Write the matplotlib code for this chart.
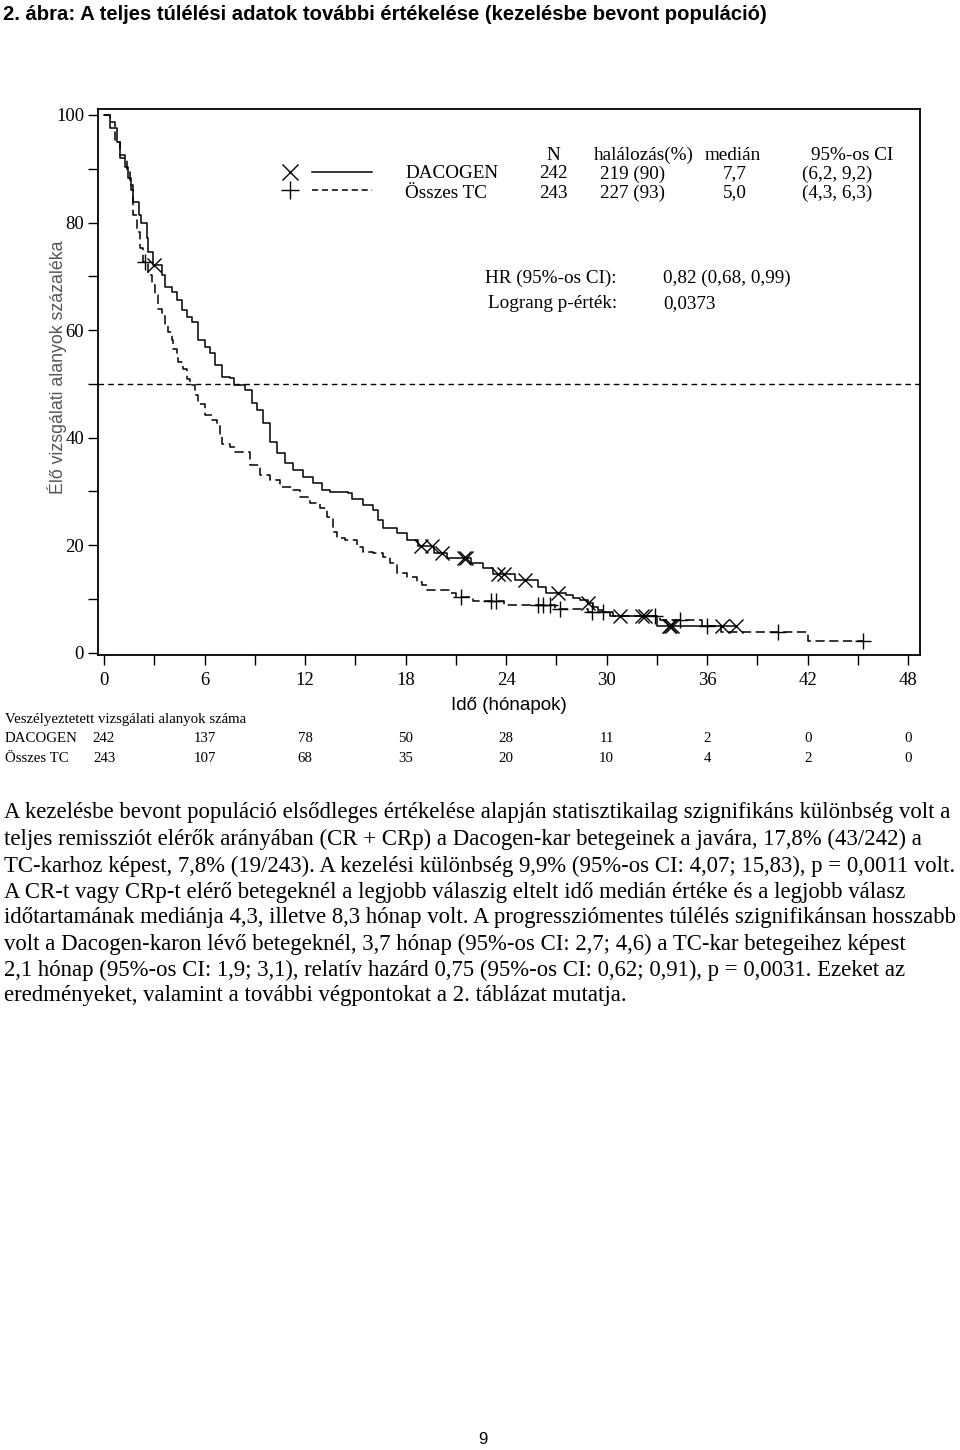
import numpy as np
import matplotlib
matplotlib.use('Agg')
import matplotlib.pyplot as plt
import matplotlib.transforms as mtransforms

SERIF = 'Liberation Serif'
SANS = 'Liberation Sans'

# DACOGEN curve: months, % alive
dac_t = [0, 0.36, 0.78, 0.96, 1.25, 1.43, 1.61, 1.73, 2.09, 2.21, 2.57, 2.63, 2.93,
         3.46, 3.64, 4.06, 4.36, 4.66, 4.96, 5.25, 5.61, 6.03, 6.33, 6.63, 7.04,
         7.52, 7.75, 8.42, 8.84, 9.13, 9.49, 9.91, 10.33, 10.81, 11.28, 11.88, 12.48,
         13.01, 13.49, 14.57, 14.81, 15.46, 16.06, 16.36, 16.66, 17.49, 18.09, 18.75,
         19.70, 20.48, 21.88, 22.6, 23.2, 24.5, 25.9, 26.4, 27.6, 28.0, 28.4, 28.9,
         29.2, 29.5, 29.8, 30.2, 33.0, 37.8]
dac_s = [100, 97.6, 95.0, 92.6, 90.3, 88.3, 86.1, 83.8, 81.4, 79.9, 77.1, 74.5, 72.1,
         70.3, 68.0, 67.1, 65.6, 63.8, 62.5, 61.5, 58.2, 56.9, 55.8, 53.5, 51.3,
         51.1, 49.8, 48.9, 46.5, 45.2, 42.8, 39.2, 37.2, 35.3, 34.0, 32.7, 31.6,
         30.3, 29.9, 29.7, 28.6, 27.5, 26.6, 24.7, 23.2, 22.3, 21.0, 19.9,
         18.6, 17.7, 16.7, 15.8, 14.7, 13.6, 12.3, 11.2, 10.8, 10.2, 9.9, 9.3,
         8.6, 8.0, 7.6, 6.9, 4.9, 4.9]
dac_cens = [3.0, 18.9, 19.6, 20.2, 21.5, 21.6, 23.5, 23.9, 25.1, 27.1, 28.9, 30.8,
            32.1, 32.3, 33.7, 33.8, 33.9, 36.9, 37.7]

# Összes TC curve
tc_t = [0, 0.36, 0.66, 0.96, 1.37, 1.55, 1.73, 1.97, 2.15, 2.33, 2.63, 2.87, 3.04,
        3.22, 3.46, 3.64, 3.82, 4.06, 4.12, 4.36, 4.42, 4.72, 4.96, 5.13, 5.43, 5.61,
        6.03, 6.45, 6.75, 6.93, 7.04, 7.52, 7.82, 8.72, 9.31, 9.91, 10.51, 11.28,
        11.70, 12.30, 12.90, 13.31, 13.67, 13.91, 14.39, 15.10, 15.46, 16.06, 16.66,
        17.07, 17.49, 18.09, 18.69, 18.99, 19.28, 20.66, 21.0, 22.0, 23.9, 26.9,
        28.9, 30.4, 33.2, 35.7, 36.8, 42.0, 45.3]
tc_s = [100, 98.7, 95.0, 92.0, 89.4, 87.0, 81.4, 78.3, 75.3, 72.7, 70.3, 68.4, 66.5,
        64.0, 62.8, 61.2, 59.7, 58.2, 56.5, 55.6, 54.1, 52.8, 50.9, 49.8, 48.0, 46.3,
        44.2, 43.3, 42.4, 40.3, 38.8, 38.3, 37.4, 34.9, 33.1, 32.2, 30.9, 30.3,
        29.0, 27.9, 27.0, 25.3, 22.5, 21.4, 21.0, 19.7, 18.8, 18.6, 17.8,
        16.7, 14.9, 14.1, 13.2, 12.6, 11.7, 11.2, 10.4, 9.7, 8.9, 8.2,
        7.6, 6.9, 6.1, 5.0, 3.9, 2.2, 2.2]
tc_cens = [2.45, 21.3, 23.1, 23.4, 25.9, 26.2, 26.6, 27.2, 29.1, 29.8, 32.9, 34.4,
           36.0, 40.2, 45.3]

x_ticks = [0, 6, 12, 18, 24, 30, 36, 42, 48]
risk_dac = [242, 137, 78, 50, 28, 11, 2, 0, 0]
risk_tc = [243, 107, 68, 35, 20, 10, 4, 2, 0]

legend_rows = [
    ['DACOGEN', '242', '219 (90)', '7,7', '(6,2, 9,2)'],
    ['Összes TC', '243', '227 (93)', '5,0', '(4,3, 6,3)'],
]

body_lines = [
    "A kezelésbe bevont populáció elsődleges értékelése alapján statisztikailag szignifikáns különbség volt a",
    "teljes remissziót elérők arányában (CR + CRp) a Dacogen-kar betegeinek a javára, 17,8% (43/242) a",
    "TC-karhoz képest, 7,8% (19/243). A kezelési különbség 9,9% (95%-os CI: 4,07; 15,83), p = 0,0011 volt.",
    "A CR-t vagy CRp-t elérő betegeknél a legjobb válaszig eltelt idő medián értéke és a legjobb válasz",
    "időtartamának mediánja 4,3, illetve 8,3 hónap volt. A progressziómentes túlélés szignifikánsan hosszabb",
    "volt a Dacogen-karon lévő betegeknél, 3,7 hónap (95%-os CI: 2,7; 4,6) a TC-kar betegeihez képest",
    "2,1 hónap (95%-os CI: 1,9; 3,1), relatív hazárd 0,75 (95%-os CI: 0,62; 0,91), p = 0,0031. Ezeket az",
    "eredményeket, valamint a további végpontokat a 2. táblázat mutatja.",
]


def surv_at(t, s, x):
    idx = np.searchsorted(np.array(t), np.array(x), side='right') - 1
    return np.array(s)[idx]


W, H = 960, 1450
fig = plt.figure(figsize=(W / 100, H / 100), dpi=100)
AX_L, AX_R, AX_T, AX_B = 98, 920, 109, 655
ax = fig.add_axes([AX_L / W, 1 - AX_B / H, (AX_R - AX_L) / W, (AX_B - AX_T) / H])


def axpos(x, y):
    return (x - AX_L) / (AX_R - AX_L), (AX_B - y) / (AX_B - AX_T)


def figy(y):
    return 1 - y / H


# curves
ax.plot(dac_t, dac_s, drawstyle='steps-post', color='black', lw=1.1)
ax.plot(tc_t, tc_s, drawstyle='steps-post', color='black', lw=1.1, linestyle=(0, (6, 3)))
ax.plot(dac_cens, surv_at(dac_t, dac_s, dac_cens), linestyle='none', marker='x',
        ms=10, mew=1.0, color='black')
ax.plot(tc_cens, surv_at(tc_t, tc_s, tc_cens), linestyle='none', marker='+',
        ms=12, mew=1.0, color='black')
ax.axhline(50, color='black', lw=1.0, linestyle=(0, (4, 3)))

ax.set_xlim(-0.36, 48.7)
ax.set_ylim(-0.4, 101.1)
ax.set_xticks(x_ticks)
ax.set_xticks(range(3, 48, 6), minor=True)
ax.set_yticks(range(0, 101, 20))
ax.set_yticks(range(10, 100, 20), minor=True)
ax.tick_params(which='both', direction='out', length=7, width=1, color='black')
ax.tick_params(axis='x', pad=5)
ax.tick_params(axis='y', pad=3)
for lab in ax.get_xticklabels() + ax.get_yticklabels():
    lab.set_fontfamily(SERIF)
    lab.set_fontsize(13.5)
for sp in ax.spines.values():
    sp.set_linewidth(1.3)

ax.set_xlabel('Idő (hónapok)', fontfamily=SANS, fontsize=13.5, labelpad=6)
fig.text(57 / W, figy(367), 'Élő vizsgálati alanyok százaléka', rotation=90,
         ha='center', va='center', fontfamily=SANS, fontsize=12.8, color='#555555')

# legend block inside the plot
lx, ly = axpos(290, 172)
ax.plot([lx], [ly], marker='x', ms=11, mew=1.0, color='black', transform=ax.transAxes)
lx, ly = axpos(290, 190)
ax.plot([lx], [ly], marker='+', ms=13, mew=1.0, color='black', transform=ax.transAxes)
x0, y1 = axpos(312, 172)
x1, y2 = axpos(372, 190)
ax.plot([x0, x1], [y1, y1], color='black', lw=1.1, transform=ax.transAxes)
ax.plot([x0, x1], [y2, y2], color='black', lw=1.1, linestyle=(0, (4, 2.5)),
        transform=ax.transAxes)

tkw = dict(fontfamily=SERIF, fontsize=13.8, va='center', transform=ax.transAxes)
hy = axpos(0, 155)[1]
ax.text(axpos(553, 0)[0], hy, 'N', ha='center', **tkw)
ax.text(axpos(644, 0)[0], hy, 'halálozás(%)', ha='center', **tkw)
ax.text(axpos(733, 0)[0], hy, 'medián', ha='center', **tkw)
ax.text(axpos(811, 0)[0], hy, '95%-os CI', ha='left', **tkw)
for row, ypx in zip(legend_rows, [174, 193]):
    ry = axpos(0, ypx)[1]
    ax.text(axpos(405, 0)[0], ry, row[0], ha='left', **tkw)
    ax.text(axpos(553, 0)[0], ry, row[1], ha='center', **tkw)
    ax.text(axpos(633, 0)[0], ry, row[2], ha='center', **tkw)
    ax.text(axpos(735, 0)[0], ry, row[3], ha='center', **tkw)
    ax.text(axpos(802, 0)[0], ry, row[4], ha='left', **tkw)

ax.text(axpos(617, 0)[0], axpos(0, 278)[1], 'HR (95%-os CI):', ha='right', **tkw)
ax.text(axpos(617, 0)[0], axpos(0, 304)[1], 'Lograng p-érték:', ha='right', **tkw)
ax.text(axpos(663, 0)[0], axpos(0, 278)[1], '0,82 (0,68, 0,99)', ha='left', **tkw)
ax.text(axpos(663, 0)[0], axpos(0, 304)[1], '0,0373', ha='left', **tkw)

# number at risk table
blend = mtransforms.blended_transform_factory(ax.transData, fig.transFigure)
rkw = dict(fontfamily=SERIF, fontsize=10.7, va='center')
fig.text(5 / W, figy(719), 'Veszélyeztetett vizsgálati alanyok száma', ha='left', **rkw)
fig.text(5 / W, figy(739), 'DACOGEN', ha='left', **rkw)
fig.text(5 / W, figy(759), 'Összes TC', ha='left', **rkw)
for xt, a, b in zip(x_ticks, risk_dac, risk_tc):
    ax.text(xt, figy(739), str(a), ha='center', transform=blend, **rkw)
    ax.text(xt, figy(759), str(b), ha='center', transform=blend, **rkw)

# title
fig.text(3 / W, figy(15), '2. ábra: A teljes túlélési adatok további értékelése (kezelésbe bevont populáció)',
         ha='left', va='center', fontfamily=SANS, fontweight='bold', fontsize=14.6)

# body text
line_y = [812, 839, 866, 892, 918, 944, 970, 996]
for txt, yy in zip(body_lines, line_y):
    fig.text(4 / W, figy(yy), txt, ha='left', va='center', fontfamily=SERIF, fontsize=16.4)

fig.text(483 / W, figy(1440), '9', ha='center', va='center', fontfamily=SANS, fontsize=12)

fig.savefig('out.png', dpi=100)
